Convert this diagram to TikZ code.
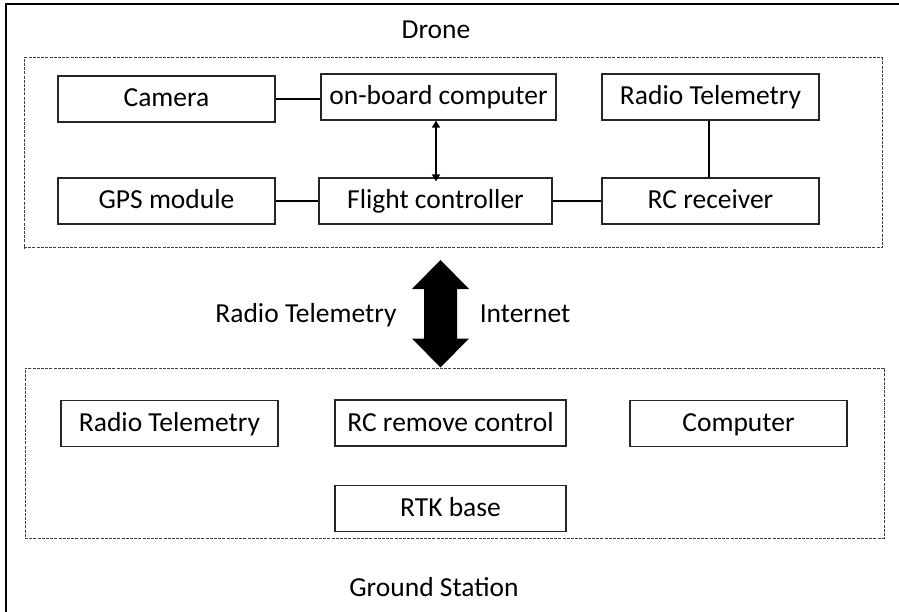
\documentclass[tikz,border=0pt]{standalone}
\usepackage{fontspec}
\setmainfont{Carlito}
\usetikzlibrary{arrows.meta,calc}

\begin{document}
\begin{tikzpicture}[x=1pt,y=-1pt,
  txt/.style={inner sep=0pt, text height=20pt, text depth=4pt, font=\fontsize{27.5}{33}\selectfont},
  blk/.style={txt, draw=black!85, line width=1.2pt, minimum height=46pt},
  groupbox/.style={draw=black!75, line width=1pt, dash pattern=on 3pt off 1.2pt, inner sep=0pt},
  link/.style={draw=black, line width=1.6pt},
  thinarrow/.style={link, {Triangle[length=7pt,width=8pt]}-{Triangle[length=7pt,width=8pt]}},
]
\useasboundingbox (0,0) rectangle (899,612);

% frame (only its top and left sides fall inside the page)
\draw[line width=2.6pt] (6,612) -- (6,4) -- (899,4);

% group outlines
\node[groupbox, minimum width=858pt, minimum height=190pt] (dronebox) at (453,153) {};
\node[groupbox, minimum width=859pt, minimum height=170pt] (groundbox) at (454.5,453) {};

% drone components
\node[blk, minimum width=217pt] (cam) at (166.5,99) {Camera};
\node[blk, minimum width=235pt] (obc) at (438.5,97) {on-board computer};
\node[blk, minimum width=217pt] (rtd) at (710.5,97) {Radio Telemetry};
\node[blk, minimum width=217pt] (gps) at (166.5,201) {GPS module};
\node[blk, minimum width=233pt] (fc)  at (435.5,201) {Flight controller};
\node[blk, minimum width=217pt] (rcr) at (710.5,201) {RC receiver};

% ground station components
\node[blk, minimum width=217pt] (rtg) at (169.5,423.5) {Radio Telemetry};
\node[blk, minimum width=231pt] (rcc) at (450.5,423) {RC remove control};
\node[blk, minimum width=217pt] (pc)  at (738.5,423.5) {Computer};
\node[blk, minimum width=231pt] (rtk) at (450.5,508.5) {RTK base};

% titles and link labels
\node[txt] (tdrone) at (436,30.5) {Drone};
\node[txt] (tground) at (434,588.5) {Ground Station};
\node[txt] (lradio) at (306,314) {Radio Telemetry};
\node[txt] (linternet) at (525,314) {Internet};

% on-board wiring
\draw[link] (cam.east) -- (cam.east -| obc.west);
\draw[thinarrow] (obc.south -| 436,0) -- ([yshift=-4pt]fc.north -| 436,0);
\draw[link] (rtd.south -| 709,0) -- (rcr.north -| 709,0);
\draw[link] (gps.east) -- (fc.west);
\draw[link] (fc.east) -- (rcr.west);

% wide two-way link between drone and ground station
\coordinate (ltop) at (440.5,260);
\coordinate (lbot) at (groundbox.north -| ltop);
\fill[black] (ltop) -- ++(28.5,29) -- ++(-12,0) -- ($(lbot)+(16.5,-29)$) -- ++(12,0)
  -- (lbot) -- ++(-28.5,-29) -- ++(12,0) -- ($(ltop)+(-16.5,29)$) -- ++(-12,0) -- cycle;
\end{tikzpicture}
\end{document}
